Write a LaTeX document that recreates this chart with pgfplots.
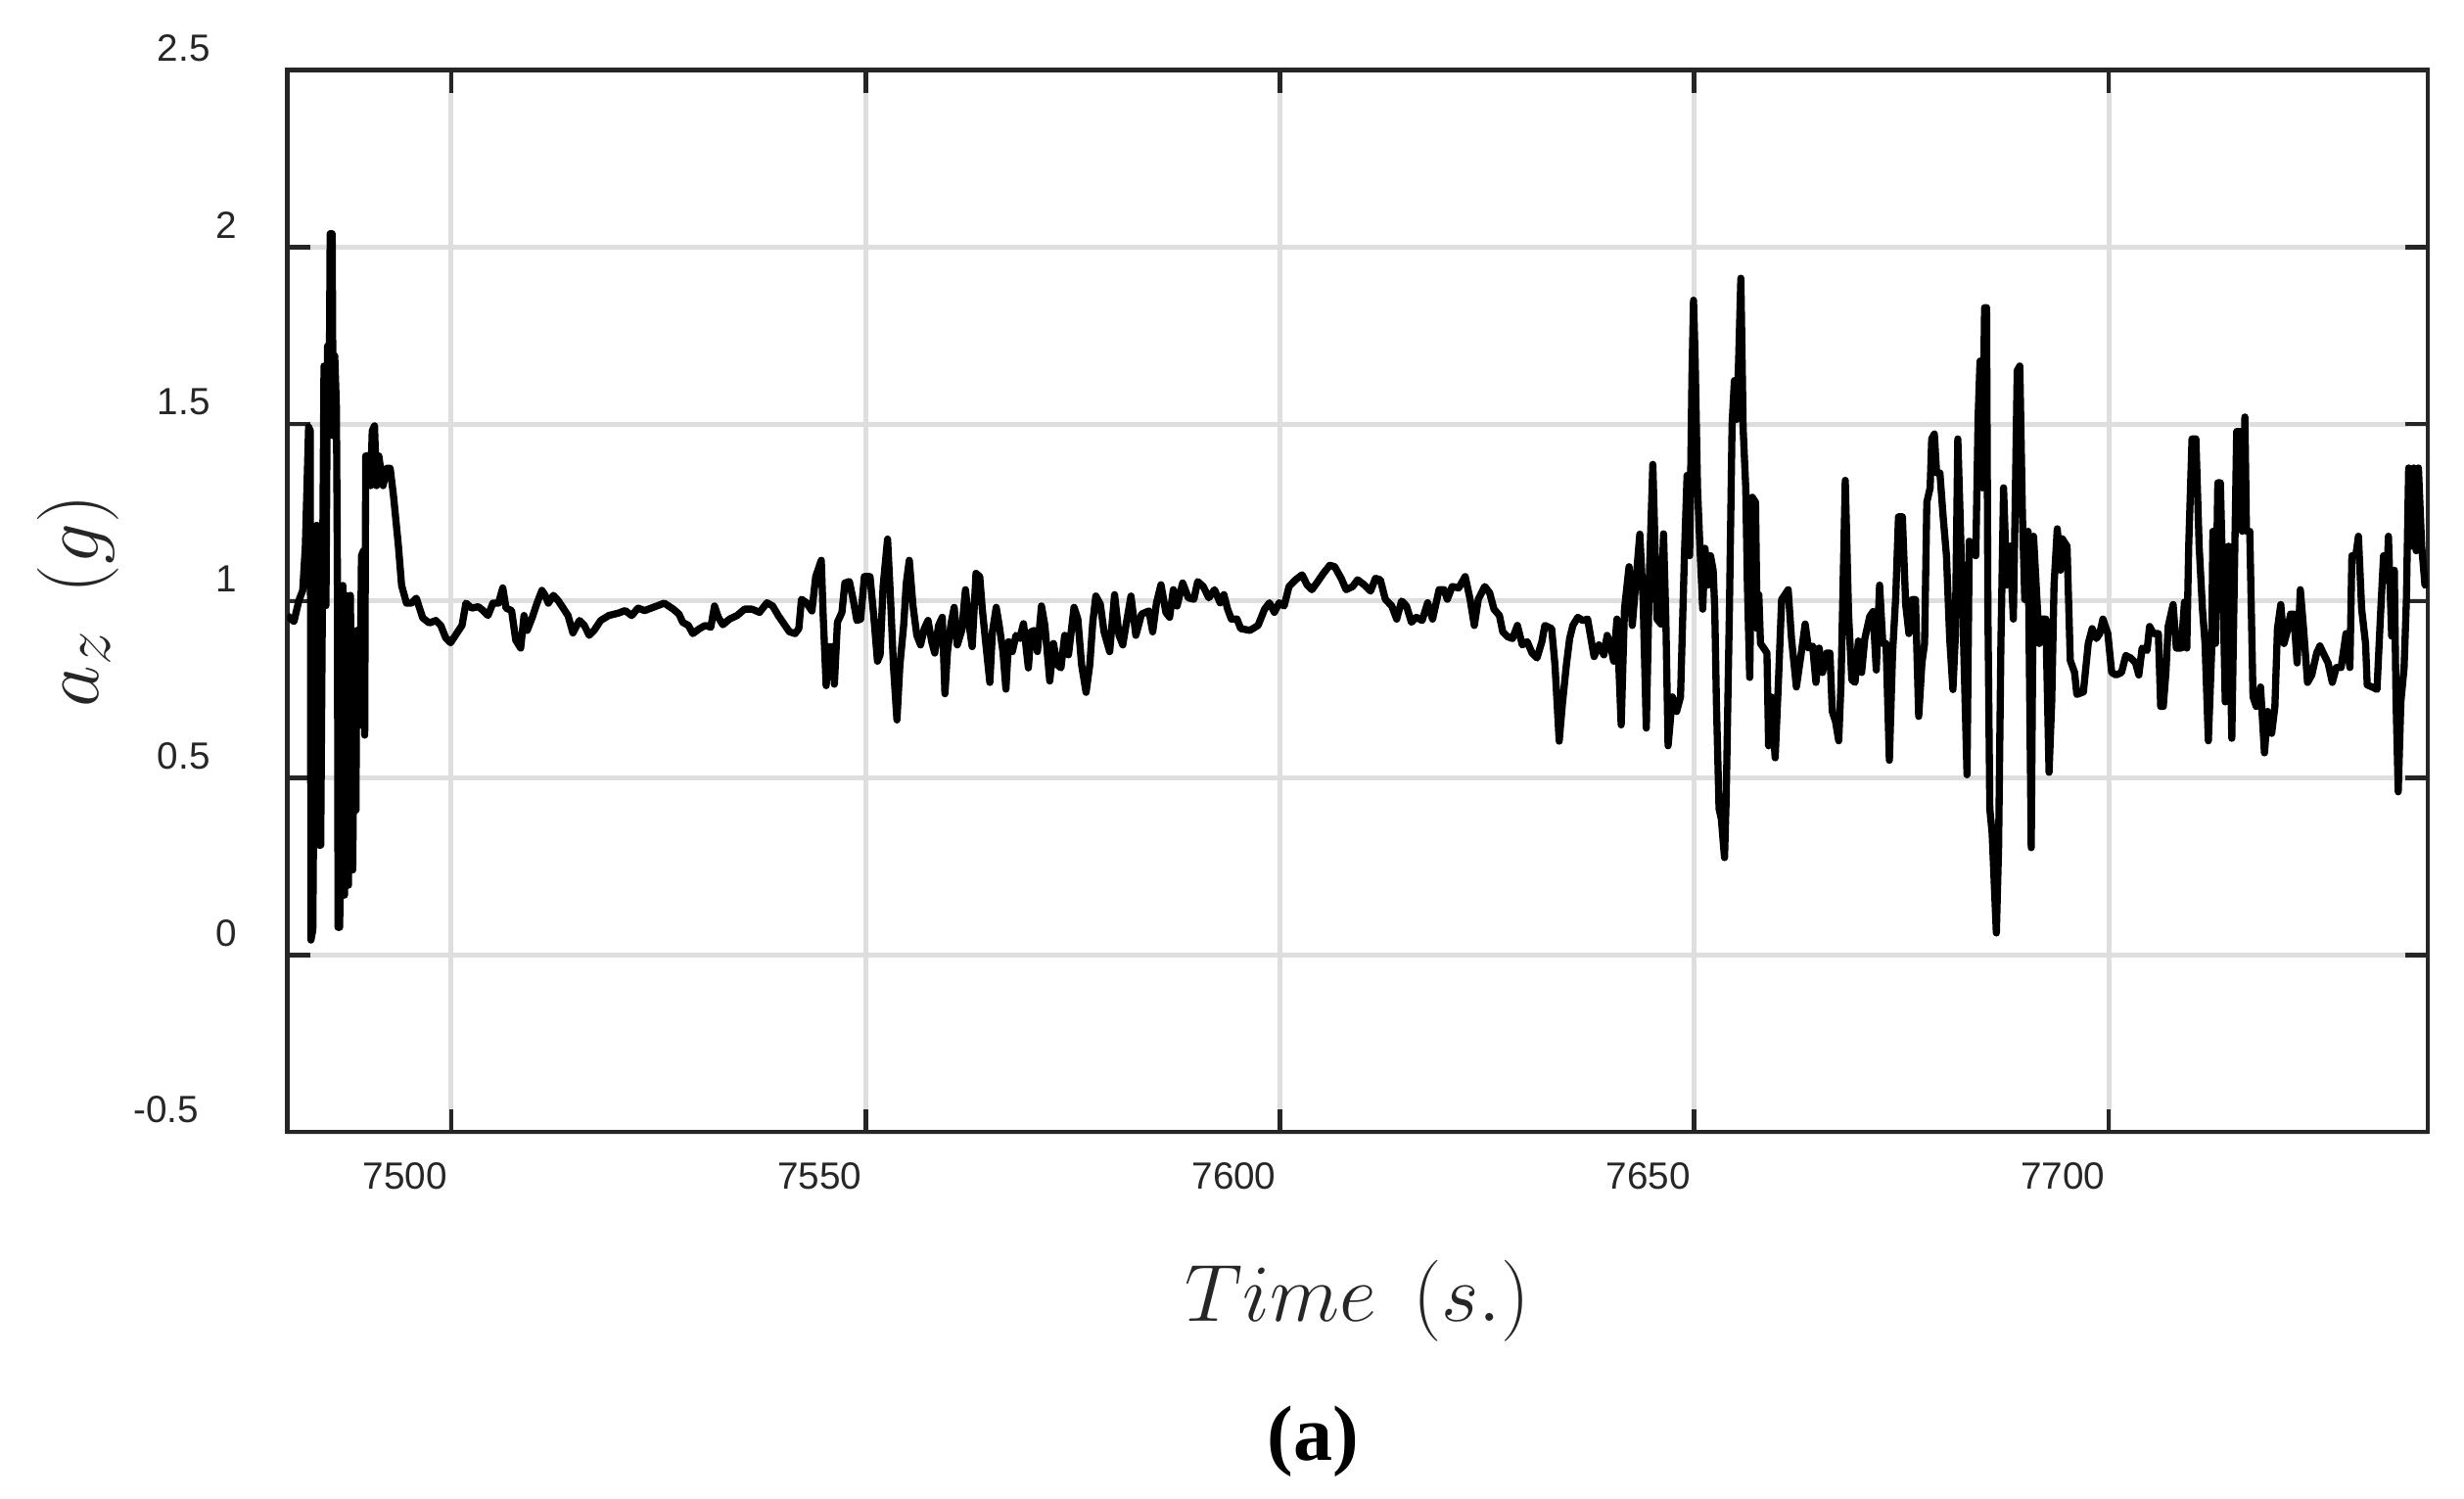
\documentclass[border=0pt]{standalone}
\usepackage{fontspec}
\setmainfont{Liberation Sans}
\newfontfamily\capfont{Liberation Serif}
\usepackage{pgfplots}
\pgfplotsset{compat=1.18}

\definecolor{axisgray}{RGB}{38,38,38}
\definecolor{gridgray}{RGB}{222,222,222}

% acceleration trace, a_z in g against time in s
\pgfplotstableread{
t v
7480.2 0.959
7481.02 0.942
7481.61 1.001
7482.08 1.030
7482.40 1.157
7482.79 1.492
7482.99 1.481
7483.07 0.042
7483.30 0.071
7483.50 0.733
7483.66 1.213
7483.90 1.213
7484.05 0.310
7484.25 0.310
7484.45 0.987
7484.65 1.664
7484.88 0.987
7485.08 1.721
7485.28 1.608
7485.39 2.038
7485.63 2.038
7485.75 1.467
7485.94 1.693
7486.14 1.551
7486.26 1.100
7486.34 0.078
7486.53 0.078
7486.73 0.381
7486.93 1.044
7487.12 0.169
7487.32 1.016
7487.60 0.197
7487.83 1.016
7488.11 0.240
7488.30 0.705
7488.50 0.409
7488.62 0.917
7488.89 0.917
7488.97 0.649
7489.17 1.128
7489.41 1.142
7489.56 0.621
7489.68 1.410
7489.96 1.410
7490.27 1.326
7490.47 1.481
7490.74 1.495
7490.98 1.326
7491.26 1.410
7491.77 1.326
7492.24 1.375
7492.63 1.375
7493.03 1.298
7493.62 1.157
7494.01 1.044
7494.60 0.994
7495.19 0.994
7495.78 1.008
7496.57 0.952
7497.36 0.938
7498.15 0.945
7498.74 0.931
7499.33 0.896
7499.92 0.882
7500.70 0.910
7501.30 0.931
7501.77 0.994
7502.48 0.980
7503.26 0.984
7503.85 0.973
7504.44 0.959
7505.03 0.994
7505.70 0.994
7506.22 1.037
7506.61 0.980
7507.28 0.973
7507.79 0.889
7508.38 0.867
7508.78 0.959
7509.17 0.917
7509.75 0.952
7510.35 0.994
7510.94 1.030
7511.33 1.016
7511.72 0.994
7512.32 1.016
7512.91 1.001
7513.50 0.980
7514.09 0.959
7514.68 0.910
7515.47 0.945
7516.06 0.931
7516.65 0.903
7517.24 0.917
7518.03 0.945
7519.01 0.959
7520.19 0.966
7520.98 0.973
7521.77 0.959
7522.55 0.980
7523.34 0.973
7524.13 0.980
7524.92 0.987
7525.70 0.994
7526.80 0.977
7527.48 0.963
7527.93 0.940
7528.61 0.931
7529.15 0.908
7529.97 0.922
7530.64 0.931
7531.32 0.926
7531.77 0.986
7532.23 0.954
7532.77 0.933
7533.58 0.949
7534.49 0.959
7535.39 0.977
7536.29 0.977
7537.20 0.968
7538.10 0.995
7538.78 0.986
7539.46 0.959
7540.13 0.936
7540.81 0.913
7541.49 0.908
7541.94 0.922
7542.26 1.005
7542.85 0.995
7543.52 0.972
7543.98 1.069
7544.65 1.115
7544.88 0.959
7545.24 0.761
7545.56 0.871
7546.01 0.871
7546.23 0.765
7546.60 0.940
7547.14 0.968
7547.50 1.051
7548.04 1.055
7548.49 1.005
7548.95 0.945
7549.40 0.949
7549.85 1.069
7550.53 1.069
7550.98 0.959
7551.43 0.830
7551.75 0.848
7552.11 1.041
7552.65 1.175
7553.01 1.005
7553.37 0.811
7553.78 0.664
7554.14 0.820
7554.59 0.931
7554.91 1.051
7555.27 1.115
7555.72 0.986
7556.18 0.903
7556.63 0.876
7557.08 0.922
7557.53 0.945
7557.98 0.885
7558.34 0.853
7558.80 0.931
7559.25 0.954
7559.57 0.738
7559.88 0.857
7560.33 0.940
7560.69 0.982
7561.06 0.876
7561.60 0.917
7562.05 1.032
7562.50 0.931
7562.86 0.871
7563.32 1.078
7563.77 1.069
7564.08 0.977
7564.54 0.871
7564.99 0.770
7565.30 0.913
7565.76 0.982
7566.12 0.931
7566.57 0.857
7566.93 0.751
7567.25 0.885
7567.70 0.857
7568.15 0.903
7568.60 0.894
7569.05 0.936
7569.64 0.811
7569.96 0.913
7570.41 0.917
7570.73 0.857
7571.22 0.986
7571.63 0.931
7572.22 0.774
7572.67 0.880
7573.12 0.820
7573.57 0.811
7574.02 0.903
7574.48 0.848
7575.15 0.982
7575.61 0.949
7576.06 0.820
7576.60 0.742
7577.05 0.820
7577.41 0.940
7577.78 1.014
7578.32 0.991
7578.77 0.913
7579.45 0.857
7580.04 1.018
7580.58 0.903
7581.03 0.876
7581.48 0.940
7582.02 1.014
7582.61 0.903
7583.29 0.963
7584.19 0.972
7584.64 0.913
7585.10 0.995
7585.64 1.046
7586.23 0.968
7586.68 0.954
7587.13 1.032
7587.58 0.986
7588.26 1.051
7588.94 1.009
7589.61 1.005
7590.07 1.055
7590.74 1.041
7591.42 1.009
7592.10 1.032
7592.78 0.995
7593.23 1.018
7593.68 0.977
7594.13 0.949
7594.81 0.949
7595.26 0.922
7596.37 0.917
7597.35 0.931
7598.14 0.977
7598.73 0.995
7599.32 0.968
7599.91 0.995
7600.50 0.986
7601.09 1.041
7601.88 1.060
7602.67 1.074
7603.26 1.046
7603.85 1.032
7604.44 1.051
7605.23 1.078
7606.01 1.101
7606.60 1.097
7607.39 1.064
7607.98 1.032
7608.77 1.041
7609.36 1.060
7610.15 1.046
7610.93 1.028
7611.52 1.064
7612.11 1.060
7612.71 1.005
7613.49 0.986
7614.08 0.949
7614.67 1.000
7615.26 0.986
7615.86 0.940
7616.45 0.954
7617.15 0.945
7617.82 0.995
7618.41 0.949
7619.20 1.032
7619.79 1.032
7620.19 1.005
7620.78 1.041
7621.56 1.037
7622.35 1.069
7622.94 1.005
7623.45 0.931
7623.93 1.005
7624.71 1.041
7625.30 1.023
7625.82 0.977
7626.48 0.959
7626.88 0.913
7627.47 0.899
7628.06 0.894
7628.65 0.931
7629.24 0.876
7629.83 0.885
7630.42 0.853
7631.01 0.839
7631.60 0.885
7631.96 0.931
7632.78 0.922
7633.18 0.820
7633.69 0.604
7634.08 0.710
7634.56 0.820
7634.95 0.894
7635.34 0.931
7635.94 0.954
7636.53 0.945
7637.12 0.949
7637.90 0.843
7638.49 0.876
7639.08 0.848
7639.48 0.903
7639.87 0.876
7640.27 0.830
7640.66 0.949
7641.17 0.650
7641.57 0.977
7642.12 1.097
7642.51 0.931
7642.83 1.023
7643.42 1.189
7643.81 1.005
7644.20 0.641
7644.60 1.097
7644.99 1.386
7645.49 0.949
7645.97 0.935
7646.28 1.190
7646.56 0.949
7646.83 0.591
7647.35 0.729
7647.86 0.688
7648.33 0.729
7648.80 1.128
7649.12 1.355
7649.43 1.128
7649.71 1.637
7649.90 1.850
7650.10 1.678
7650.38 1.320
7650.69 1.142
7651.01 0.977
7651.28 1.149
7651.68 1.045
7651.95 1.128
7652.27 1.087
7652.46 0.977
7652.66 0.715
7652.98 0.413
7653.25 0.385
7653.64 0.275
7653.84 0.440
7654.24 0.990
7654.55 1.499
7654.83 1.623
7655.10 1.513
7655.34 1.678
7655.61 1.912
7655.89 1.486
7656.20 1.320
7656.40 1.045
7656.68 0.784
7656.99 1.293
7657.38 1.279
7657.58 0.922
7657.78 1.018
7657.98 0.880
7658.37 0.867
7658.76 0.853
7658.96 0.591
7659.27 0.729
7659.75 0.557
7660.14 0.770
7660.53 1.004
7660.93 1.018
7661.32 1.032
7661.72 0.894
7662.31 0.757
7662.90 0.853
7663.37 0.935
7663.76 0.867
7664.27 0.873
7664.67 0.770
7665.06 0.867
7665.46 0.798
7665.97 0.853
7666.36 0.853
7666.64 0.688
7667.03 0.660
7667.42 0.605
7667.70 0.770
7668.21 1.341
7668.61 0.963
7669.00 0.777
7669.39 0.770
7669.79 0.887
7670.18 0.798
7670.57 0.894
7671.16 0.956
7671.56 0.970
7671.95 0.805
7672.35 1.045
7672.74 0.880
7673.13 0.880
7673.53 0.550
7673.92 0.853
7674.31 1.018
7674.63 1.238
7675.10 1.238
7675.50 0.990
7675.89 0.908
7676.28 1.004
7676.68 1.004
7677.07 0.674
7677.46 0.825
7677.78 0.880
7678.05 1.279
7678.45 1.320
7678.64 1.458
7678.96 1.472
7679.23 1.362
7679.63 1.362
7680.02 1.238
7680.42 1.128
7680.81 0.894
7681.20 0.750
7681.48 0.894
7681.79 1.458
7682.07 1.238
7682.38 0.977
7682.90 0.509
7683.17 1.169
7683.57 1.155
7683.96 1.128
7684.24 1.520
7684.47 1.678
7684.75 1.320
7685.02 1.829
7685.26 1.829
7685.42 0.977
7685.65 0.413
7685.93 0.344
7686.44 0.062
7686.71 0.303
7686.99 0.880
7687.31 1.320
7687.70 1.045
7688.09 1.155
7688.49 0.949
7688.68 1.224
7688.96 1.651
7689.27 1.664
7689.59 1.238
7689.87 1.004
7690.26 1.197
7690.65 0.303
7690.93 1.183
7691.62 0.880
7692.02 0.949
7692.41 0.949
7692.80 0.516
7693.12 0.715
7693.40 1.045
7693.79 1.204
7694.18 1.087
7694.38 1.176
7694.97 1.155
7695.36 0.832
7695.88 0.798
7696.15 0.736
7696.94 0.743
7697.53 0.880
7698.00 0.922
7698.51 0.894
7698.91 0.908
7699.30 0.949
7699.89 0.908
7700.36 0.798
7700.88 0.791
7701.54 0.798
7702.06 0.846
7702.65 0.839
7703.24 0.825
7703.63 0.791
7704.03 0.867
7704.62 0.860
7704.93 0.928
7705.40 0.908
7705.99 0.908
7706.27 0.702
7706.58 0.702
7706.90 0.798
7707.17 0.928
7707.77 0.990
7708.16 0.867
7708.75 0.867
7709.14 0.997
7709.42 0.867
7709.65 1.155
7710.05 1.458
7710.52 1.458
7710.91 1.155
7711.31 0.977
7711.62 0.880
7712.02 0.605
7712.41 0.853
7712.57 1.197
7712.88 0.880
7713.16 1.334
7713.47 1.334
7713.75 1.073
7714.06 0.715
7714.46 1.155
7714.85 0.612
7715.05 0.908
7715.44 1.479
7715.84 1.479
7716.11 1.197
7716.43 1.520
7716.62 1.197
7717.02 1.197
7717.41 0.729
7717.80 0.702
7718.32 0.757
7718.79 0.571
7719.18 0.688
7719.66 0.626
7720.05 0.702
7720.36 0.922
7720.76 0.990
7721.15 0.880
7721.55 0.915
7721.94 0.963
7722.33 0.963
7722.73 0.825
7723.12 1.032
7723.51 0.922
7723.99 0.770
7724.50 0.791
7725.09 0.853
7725.48 0.873
7725.88 0.853
7726.47 0.825
7726.98 0.770
7727.45 0.812
7728.04 0.812
7728.63 0.908
7729.10 0.812
7729.34 1.128
7729.81 1.128
7730.13 1.183
7730.52 0.977
7730.99 0.880
7731.19 0.763
7731.78 0.757
7732.37 0.750
7732.77 0.949
7733.16 1.128
7733.55 1.059
7733.75 1.183
7734.14 0.901
7734.46 1.087
7734.66 0.729
7734.93 0.461
7735.25 0.715
7735.64 0.812
7735.92 1.004
7736.19 1.376
7736.50 1.155
7736.82 1.376
7737.10 1.142
7737.37 1.376
7737.76 1.155
7738.16 1.045
7738.50 1.050
}\aztrace

\begin{document}
\begin{tikzpicture}
% fixes the page to the reference's margins around the axis box
\path[use as bounding box] (-88pt,-112.2pt) rectangle (667.1pt,346.8pt);
\begin{axis}[
    at={(0,0)}, anchor=south west,
    scale only axis,
    width=656pt, height=325.3pt,
    xmin=7480.2, xmax=7738.5,
    ymin=-0.5, ymax=2.5,
    clip mode=individual,
    xtick={7500,7550,7600,7650,7700},
    xticklabels={7500,7550,7600,7650,7700},
    ytick={-0.5,0,0.5,1,1.5,2,2.5},
    yticklabels={{-0.5\kern3.45pt},{0\kern-11.2pt},{0.5},{1\kern-11.2pt},{1.5},{2\kern-11.2pt},{2.5}},
    tick pos=both,
    tick align=inside,
    major tick length=7pt,
    every tick/.style={axisgray, line width=1.4pt},
    axis line style={axisgray, line width=1.4pt},
    grid=major,
    major grid style={gridgray, line width=1.5pt},
    xticklabel style={anchor=north east, inner sep=0pt, xshift=-1pt, yshift=-9.2pt,
        font=\fontsize{11.6}{13}\selectfont, text=axisgray},
    yticklabel style={anchor=east, inner sep=0pt, xshift=-23.4pt, yshift=6.75pt,
        font=\fontsize{11.6}{13}\selectfont, text=axisgray},
    xlabel={$Time\hspace{0.45em}(s.)$},
    ylabel={$a_z\hspace{0.45em}(g)$},
    xlabel style={at={(axis description cs:0.5,-0.1783)}, anchor=base, inner sep=0pt,
        font=\fontsize{24.88}{30}\selectfont, text=axisgray},
    ylabel style={at={(axis description cs:-0.0884,0.5)}, anchor=base, inner sep=0pt,
        font=\fontsize{24.88}{30}\selectfont, text=axisgray},
]
\addplot[black, line width=2.2pt, line join=round] table[x=t, y=v] {\aztrace};
\node[anchor=base, inner sep=0pt, font=\capfont\bfseries\fontsize{24}{28}\selectfont]
    at (axis description cs:0.4794,-0.3096) {(a)};
\end{axis}
\end{tikzpicture}
\end{document}
